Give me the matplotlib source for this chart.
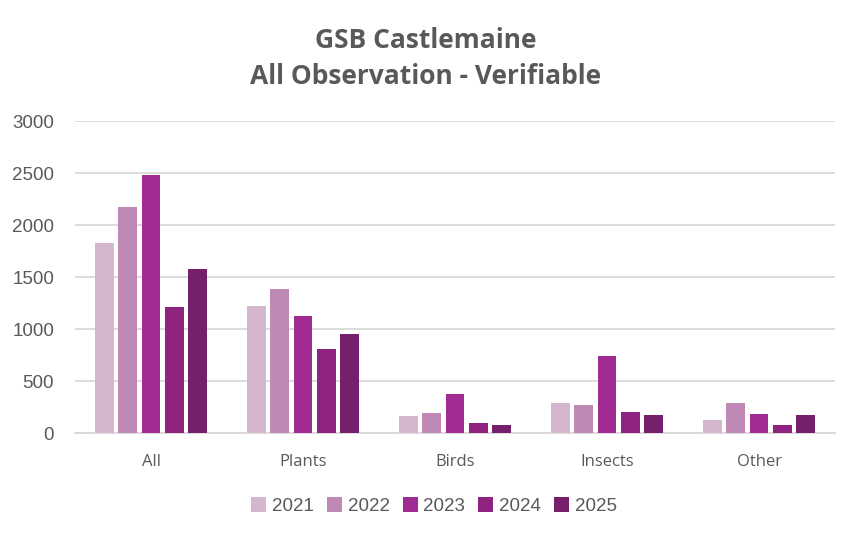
import numpy as np
import matplotlib
matplotlib.use("Agg")
import matplotlib.pyplot as plt

categories = ["All", "Plants", "Birds", "Insects", "Other"]
years = ["2021", "2022", "2023", "2024", "2025"]
v2021 = [1824, 1218, 160, 285, 122]
v2022 = [2170, 1382, 189, 266, 285]
v2023 = [2478, 1122, 372, 737, 179]
v2024 = [1209, 805, 93, 199, 74]
v2025 = [1574, 949, 74, 170, 170]
colors = ["#D4B6CF", "#BE89B5", "#A02B93", "#8E2380", "#761F6C"]

series = [v2021, v2022, v2023, v2024, v2025]
grey = "#595959"

fig = plt.figure(figsize=(8.51, 5.33), dpi=100)
ax = fig.add_axes([75/851, 1 - 433/533, 760/851, 312/533])

x = np.arange(len(categories))
step = 0.153
width = 0.122
for i, (vals, yr) in enumerate(zip(series, years)):
    ax.bar(x + (i - 2) * step, vals, width, color=colors[i], label=yr, zorder=3)

ax.set_xlim(-0.5, len(categories) - 0.5)
ax.set_ylim(0, 3000)
ax.set_yticks(np.arange(0, 3001, 500))
ax.yaxis.grid(True, color="#D9D9D9", linewidth=1.3, zorder=0)
ax.set_xticks(x)
ax.set_xticklabels(categories, fontsize=12, color=grey, family="Open Sans")
for lbl in ax.get_yticklabels():
    lbl.set_family("Liberation Sans")
ax.tick_params(axis="y", labelsize=13.5, labelcolor=grey, length=0, pad=15)
ax.tick_params(axis="x", length=0, pad=15)
for s in ["top", "right", "left"]:
    ax.spines[s].set_visible(False)
ax.spines["bottom"].set_color("#D9D9D9")
ax.spines["bottom"].set_linewidth(1.3)

fig.text(0.5, 1 - 40/533, "GSB Castlemaine", ha="center", va="center",
         fontsize=19, fontweight="bold", color=grey, family="Open Sans")
fig.text(0.5, 1 - 77/533, "All Observation - Verifiable", ha="center", va="center",
         fontsize=19, fontweight="bold", color=grey, family="Open Sans")

leg = fig.legend(loc="center", bbox_to_anchor=(434/851, 1 - 506/533), ncol=5,
                 frameon=False, handlelength=0.8, handleheight=0.8,
                 handletextpad=0.3, columnspacing=0.7,
                 prop={"family": "Liberation Sans", "size": 13.5})
for t in leg.get_texts():
    t.set_color(grey)

fig.savefig("out.png", dpi=100)
